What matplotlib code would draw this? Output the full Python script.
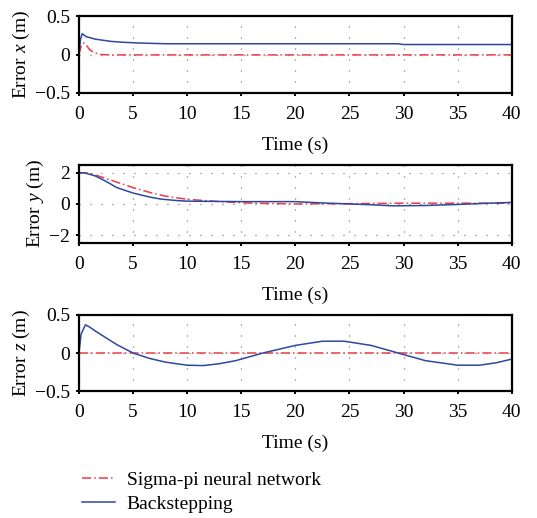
import numpy as np
import matplotlib.pyplot as plt

# time axis (s) and error traces
t_ex_bs = [0, 0.15, 0.3, 0.5, 0.7, 1.0, 1.5, 2.0, 3.0, 4.0, 5.5, 8, 12, 20, 29.5, 30, 40]
ex_bs = [0, 0.2, 0.27, 0.25, 0.23, 0.22, 0.20, 0.19, 0.17, 0.16, 0.15, 0.14, 0.14, 0.14, 0.14, 0.13, 0.13]
t_ex_sp = [0, 0.15, 0.3, 0.45, 0.7, 1.0, 1.5, 2.0, 3.0, 40]
ex_sp = [0, 0.08, 0.14, 0.15, 0.12, 0.06, 0.02, 0.0, -0.005, -0.005]

t_ey_bs = [0, 0.5, 1.5, 2.5, 3.5, 5, 6.5, 7.5, 9, 10, 15, 20, 22, 25, 27, 29, 32, 35, 38, 40]
ey_bs = [2.0, 2.0, 1.8, 1.45, 1.05, 0.7, 0.45, 0.32, 0.22, 0.18, 0.15, 0.15, 0.08, 0.0, -0.05, -0.12, -0.1, -0.03, 0.05, 0.1]
t_ey_sp = [0, 1.0, 2.0, 3.5, 5, 6.5, 8, 10, 13, 16, 20, 25, 30, 35, 40]
ey_sp = [2.0, 1.97, 1.75, 1.4, 1.05, 0.75, 0.5, 0.3, 0.15, 0.05, 0.0, 0.02, 0.05, 0.05, 0.05]

t_ez_bs = [0, 0.2, 0.6, 1.0, 1.5, 2.5, 3.5, 5, 6.5, 8, 10, 11.5, 13, 14.5, 17, 20, 22.5, 24.5, 27, 29.5, 32, 35, 37, 38.5, 40]
ez_bs = [0, 0.25, 0.37, 0.34, 0.29, 0.2, 0.11, 0.0, -0.07, -0.12, -0.16, -0.165, -0.14, -0.1, 0.0, 0.1, 0.155, 0.155, 0.1, 0.0, -0.1, -0.16, -0.16, -0.13, -0.08]
t_ez_sp = [0, 40]
ez_sp = [0, 0]

xticks = [0, 5, 10, 15, 20, 25, 30, 35, 40]
ylabels = ['Error $x$ (m)', 'Error $y$ (m)', 'Error $z$ (m)']
ylims = [(-0.5, 0.5), (-2.5, 2.5), (-0.5, 0.5)]
yticks = [[-0.5, 0, 0.5], [-2, 0, 2], [-0.5, 0, 0.5]]
yticklabels = [['\u22120.5', '0', '0.5'], ['\u22122', '0', '2'], ['\u22120.5', '0', '0.5']]

red = '#ec3b46'
blue = '#2c48a0'

plt.rcParams['font.family'] = ['Liberation Serif', 'DejaVu Serif']
plt.rcParams['mathtext.fontset'] = 'custom'
plt.rcParams['mathtext.it'] = 'Liberation Serif:italic'
plt.rcParams['mathtext.rm'] = 'Liberation Serif'

fig = plt.figure(figsize=(5.37, 5.18), dpi=100)
boxes = [(0.147, 0.8205, 0.806, 0.1485),
         (0.147, 0.531, 0.806, 0.1505),
         (0.147, 0.245, 0.806, 0.147)]

series = [(t_ex_sp, ex_sp, t_ex_bs, ex_bs),
          (t_ey_sp, ey_sp, t_ey_bs, ey_bs),
          (t_ez_sp, ez_sp, t_ez_bs, ez_bs)]

for i, box in enumerate(boxes):
    ax = fig.add_axes(box)
    ts, ys, tb, yb = series[i]
    l1, = ax.plot(ts, ys, color=red, lw=1.1, ls=(0, (6, 2, 1, 2)), label='Sigma-pi neural network')
    l2, = ax.plot(tb, yb, color=blue, lw=1.1, label='Backstepping')
    ax.set_xlim(0, 40)
    ax.set_ylim(*ylims[i])
    ax.set_xticks(xticks)
    ax.set_yticks(yticks[i])
    ax.set_yticklabels(yticklabels[i])
    ax.tick_params(direction='out', length=2.5, width=1.4, labelsize=14, pad=4)
    ax.tick_params(axis='x', pad=7)
    ax.grid(True, color='#666666', ls=(0, (0.8, 8)), lw=0.9)
    for s in ax.spines.values():
        s.set_linewidth(1.6)
    ax.set_xlabel('Time (s)', fontsize=14, labelpad=10)
    ax.set_ylabel(ylabels[i], fontsize=14, labelpad=2)

fig.legend([l1, l2], ['Sigma-pi neural network', 'Backstepping'],
           loc='upper left', bbox_to_anchor=(0.12, 0.124), frameon=False,
           fontsize=14, handlelength=1.7, handletextpad=0.6, labelspacing=0.32)

fig.savefig('out.png', dpi=100)
